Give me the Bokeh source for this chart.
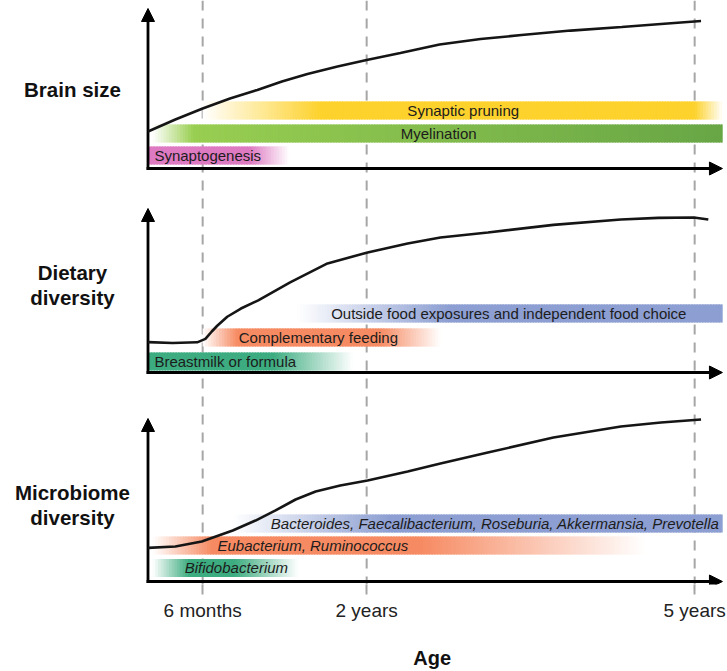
import numpy as np
from bokeh.plotting import figure
from bokeh.models import Range1d, Span, Arrow, NormalHead, Label, FixedTicker, LinearAxis
from bokeh.embed import file_html
from bokeh.resources import INLINE

# ---------------- data ----------------
tick_months = [6, 24, 60]
tick_labels = ["6 months", "2 years", "5 years"]
x_title = "Age"

panel_titles = [["Brain size"], ["Dietary", "diversity"], ["Microbiome", "diversity"]]

brain_months = [0, 3, 6, 9, 12, 14.7, 17.5, 20.8, 24, 27.7, 32, 36.5, 41, 46.4, 52, 56.3, 60.7]
brain_size = [23.1, 30.6, 37.5, 43.8, 49.1, 54.4, 59.1, 63.8, 67.8, 72.2, 77.5, 80.9, 83.4, 86.2, 88.4, 90.3, 92.2]

diet_months = [0, 2.7, 5.4, 6.3, 7.0, 7.6, 8.7, 10.2, 12.1, 15.6, 19.7, 24.1, 28.5, 32.1, 37.3, 44.5, 51.9, 56.0, 59.9, 61.5]
diet_diversity = [18.5, 18.0, 18.4, 20.5, 25.0, 28.5, 34.0, 39.0, 44.0, 55.0, 66.5, 73.2, 78.7, 82.3, 85.4, 90.0, 93.3, 94.3, 94.5, 93.3]

micro_months = [0, 3, 5.9, 9.3, 11.8, 14.0, 16.2, 18.4, 21.1, 24.1, 28.5, 32.1, 37.3, 44.5, 51.9, 56.3, 60.7]
micro_diversity = [20.6, 21.5, 24.5, 31.3, 37.4, 43.6, 50.3, 55.2, 58.9, 62.0, 67.5, 72.4, 79.1, 88.3, 95.1, 97.5, 99.4]

brain_bars = ["Synaptic pruning", "Myelination", "Synaptogenesis"]
brain_fade_start = [6.0, 0.5, 0.0]
brain_full_start = [19.0, 5.0, 0.0]
brain_full_end = [60.0, 63.05, 11.2]
brain_fade_end = [63.1, 63.05, 15.5]

diet_bars = ["Outside food exposures and independent food choice", "Complementary feeding", "Breastmilk or formula"]
diet_fade_start = [16.4, 6.0, 0.0]
diet_full_start = [33.0, 9.8, 0.0]
diet_full_end = [63.05, 25.5, 13.7]
diet_fade_end = [63.05, 32.1, 22.5]

micro_bars = ["Bacteroides, Faecalibacterium, Roseburia, Akkermansia, Prevotella",
              "Eubacterium, Ruminococcus", "Bifidobacterium"]
micro_fade_start = [9.3, 0.5, 0.5]
micro_full_start = [26.6, 7.0, 4.5]
micro_full_end = [63.05, 30.0, 9.5]
micro_fade_end = [63.05, 54.6, 16.5]

# ---------------- styles / layout ----------------
FONT = "Liberation Sans"
brain_colors = [("#FDD22C", "#FDD22C"), ("#9CD152", "#68A646"), ("#DE7AC2", "#DE7AC2")]
diet_colors = [("#8D9FD2", "#8D9FD2"), ("#F68B63", "#F68B63"), ("#3DAC80", "#3DAC80")]
micro_colors = [("#8D9FD2", "#8D9FD2"), ("#F68B63", "#F68B63"), ("#3DAC80", "#3DAC80")]

brain_text_x = [34.6, 31.9, 0.7]
brain_text_align = ["center", "center", "left"]
diet_text_x = [39.6, 18.7, 0.7]
diet_text_align = ["center", "center", "left"]
micro_text_x = [38.1, 18.1, 9.7]
micro_text_align = ["center", "center", "center"]
X_TITLE_AT = 31.2   # horizontal placement of the "Age" title (in months)

W, H = 727, 671
BOTTOM = 87
FRAME_H = float(H - BOTTOM)      # frame spans page y 0 .. 584

def panel_range(axis_px, px_per_unit):
    return Range1d(-(FRAME_H - axis_px) / px_per_unit, axis_px / px_per_unit)

PX_PER_MONTH = 9.111
ORIGIN_PX = 147.5
p = figure(width=W, height=H, output_backend="svg", toolbar_location=None,
           x_range=Range1d(-ORIGIN_PX / PX_PER_MONTH, (W - ORIGIN_PX) / PX_PER_MONTH),
           y_range=panel_range(581.0, 1.63),
           y_axis_location=None, min_border_left=0, min_border_right=0,
           min_border_top=0, min_border_bottom=BOTTOM, outline_line_color=None)
p.grid.visible = False
p.background_fill_color = "white"
p.extra_y_ranges = {"brain": panel_range(168.0, 1.6), "diet": panel_range(372.0, 1.64)}

def hex2rgb(h):
    h = h.lstrip("#")
    return np.array([int(h[i:i + 2], 16) for i in (0, 2, 4)], dtype=float)

def add_bar(fs, f0, f1, fe, c0, c1, yc, h, rng, step=0.3):
    lefts = np.arange(fs, fe, step)
    mids = lefts + step / 2
    rights = np.minimum(lefts + step * 1.6, fe)
    a = np.ones_like(mids)
    if f0 > fs:
        a = np.where(mids < f0, (mids - fs) / (f0 - fs), a)
    if fe > f1:
        a = np.where(mids > f1, (fe - mids) / (fe - f1), a)
    a = np.clip(a, 0, 1)
    t = (mids - fs) / max(fe - fs, 1e-9)
    base = hex2rgb(c0)[None, :] * (1 - t[:, None]) + hex2rgb(c1)[None, :] * t[:, None]
    col = 255 * (1 - a[:, None]) + base * a[:, None]
    colors = ["#%02x%02x%02x" % tuple(int(round(v)) for v in c) for c in col]
    kw = {} if rng is None else {"y_range_name": rng}
    p.quad(left=lefts, right=rights, bottom=yc - h / 2, top=yc + h / 2,
           fill_color=colors, line_color=None, **kw)

panels = [
    ("brain", brain_months, brain_size, brain_bars, brain_fade_start, brain_full_start,
     brain_full_end, brain_fade_end, brain_colors, brain_text_x, brain_text_align,
     [36.25, 21.9, 8.1], 11.25, "normal", [49.4]),
    ("diet", diet_months, diet_diversity, diet_bars, diet_fade_start, diet_full_start,
     diet_full_end, diet_fade_end, diet_colors, diet_text_x, diet_text_align,
     [36.0, 21.35, 6.7], 11.0, "normal", [61.0, 45.7]),
    (None, micro_months, micro_diversity, micro_bars, micro_fade_start, micro_full_start,
     micro_full_end, micro_fade_end, micro_colors, micro_text_x, micro_text_align,
     [35.6, 22.1, 8.3], 11.0, "italic", [54.6, 39.3]),
]

for i, (rng, mx, my, names, fs, f0, f1, fe, cols, tx, ta, rows, bh, style, title_y) in enumerate(panels):
    kw = {} if rng is None else {"y_range_name": rng}
    for j in range(3):
        add_bar(fs[j], f0[j], f1[j], fe[j], cols[j][0], cols[j][1], rows[j], bh, rng)
    for j in range(3):
        p.add_layout(Label(x=tx[j], y=rows[j], text=names[j], text_align=ta[j],
                           text_baseline="middle", text_font=FONT, text_font_size="15px",
                           text_font_style=style, text_color="#1c1c1c", **kw))
    p.line(mx, my, line_color="#151515", line_width=2.6, level="overlay", **kw)
    # axes as arrows
    p.add_layout(Arrow(x_start=0, y_start=0, x_end=0, y_end=100, line_width=2.8,
                       line_color="black", line_cap="square",
                       end=NormalHead(size=13, fill_color="black", line_color="black"), **kw))
    p.add_layout(Arrow(x_start=0, y_start=0, x_end=63.05, y_end=0, line_width=2.8,
                       line_color="black", line_cap="square",
                       end=NormalHead(size=13, fill_color="black", line_color="black"), **kw))
    for line, ty in zip(panel_titles[i], title_y):
        p.add_layout(Label(x=-8.29, y=ty, text=line, text_align="center",
                           text_baseline="middle", text_font=FONT, text_font_size="20.5px",
                           text_font_style="bold", text_color="#111111", **kw))

for m in tick_months:
    p.add_layout(Span(location=m, dimension="height", line_color="#A6A6A6",
                      line_width=2, line_dash="10 8", level="underlay"))

ax = p.xaxis[0]
ax.ticker = FixedTicker(ticks=tick_months)
ax.major_label_overrides = {m: lab for m, lab in zip(tick_months, tick_labels)}
ax.axis_line_color = None
ax.major_tick_in = 0
ax.major_tick_out = 10
ax.major_tick_line_color = "#A6A6A6"
ax.major_tick_line_width = 2
ax.minor_tick_line_color = None
ax.major_label_standoff = 5
ax.major_label_text_font = FONT
ax.major_label_text_font_size = "19px"
ax.major_label_text_color = "#222222"

# second (label-only) axis carrying the "Age" title, offset to the right as in the original
ax2 = LinearAxis(ticker=FixedTicker(ticks=[X_TITLE_AT]),
                 major_label_overrides={X_TITLE_AT: x_title},
                 axis_line_color=None, major_tick_line_color=None, minor_tick_line_color=None,
                 major_tick_in=0, major_tick_out=0, major_label_standoff=23,
                 major_label_text_font=FONT, major_label_text_font_size="20px",
                 major_label_text_font_style="bold", major_label_text_color="#111111")
p.add_layout(ax2, "below")

open("out.html", "w").write(file_html(p, INLINE))
